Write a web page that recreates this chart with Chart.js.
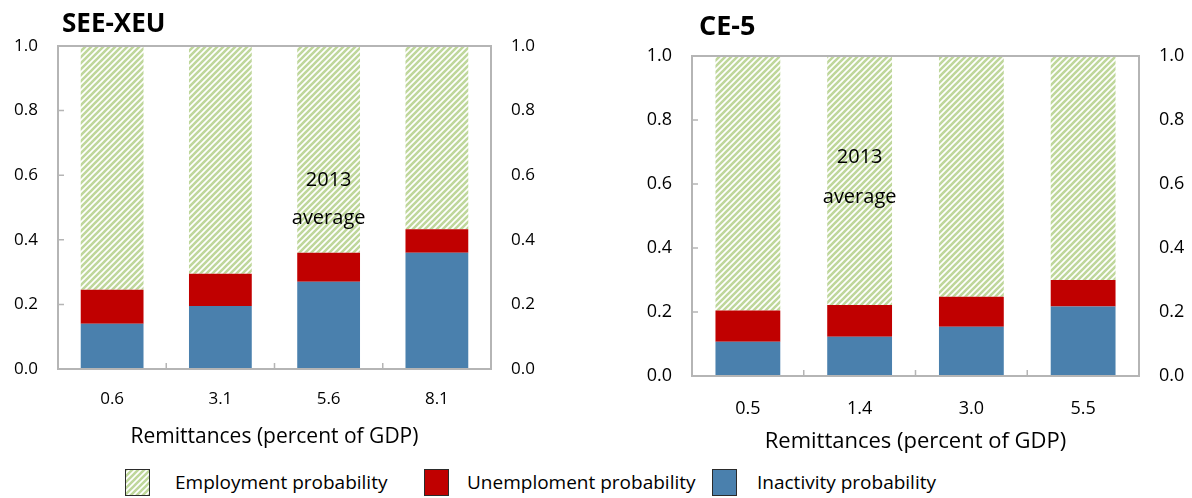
<!DOCTYPE html>
<html>
<head>
<meta charset="utf-8">
<script src="https://cdn.jsdelivr.net/npm/chart.js@4.4.1/dist/chart.umd.min.js"></script>
<style>
  body { margin: 0; background: #fff; width: 1192px; height: 498px; position: relative; overflow: hidden;
         font-family: "Open Sans", sans-serif; color: #000; }
  .box { position: absolute; top: 0; width: 596px; height: 460px; }
  .ttl { position: absolute; font-weight: bold; line-height: 1; }
  .sw { position: absolute; top: 469px; width: 23px; height: 25px; border: 1px solid #2b2b2b; }
  .lt { position: absolute; top: 469px; font-size: 19px; line-height: 26px; }
</style>
</head>
<body>
<div class="box" style="left:0"><canvas id="see"></canvas></div>
<div class="box" style="left:596px"><canvas id="ce"></canvas></div>
<div class="ttl" style="left:62px; top:9px; font-size:26px">SEE-XEU</div>
<div class="ttl" style="left:699px; top:11px; font-size:27px">CE-5</div>

<div class="sw" id="swEmp" style="left:125px"></div>
<div class="lt" style="left:175px">Employment probability</div>
<div class="sw" style="left:424px; background:#c00000"></div>
<div class="lt" style="left:467px">Unemploment probability</div>
<div class="sw" style="left:712px; background:#4a80ad"></div>
<div class="lt" style="left:757px">Inactivity probability</div>

<script>
// SEE-XEU
const seeLabels = ['0.6', '3.1', '5.6', '8.1'];
const seeInactivity = [0.14, 0.195, 0.27, 0.36];
const seeUnemployment = [0.105, 0.10, 0.09, 0.073];
const seeEmployment = [0.755, 0.705, 0.64, 0.567];

// CE-5
const ceLabels = ['0.5', '1.4', '3.0', '5.5'];
const ceInactivity = [0.107, 0.123, 0.154, 0.217];
const ceUnemployment = [0.098, 0.099, 0.094, 0.083];
const ceEmployment = [0.795, 0.778, 0.752, 0.70];

const yMin = 0, yMax = 1, yStep = 0.2;
const xTitle = 'Remittances (percent of GDP)';
const noteLines = ['2013', 'average'];

const RED = '#c00000', BLUE = '#4a80ad', HATCH = '#bfd79b', FRAME = '#b5b5b5';

function makeHatch() {
  const c = document.createElement('canvas');
  c.width = 6; c.height = 6;
  const g = c.getContext('2d');
  g.fillStyle = '#fff';
  g.fillRect(0, 0, 6, 6);
  g.strokeStyle = HATCH;
  g.lineWidth = 2.6;
  g.beginPath();
  g.moveTo(-1, 7); g.lineTo(7, -1);
  g.moveTo(-4, 4); g.lineTo(4, -4);
  g.moveTo(2, 10); g.lineTo(10, 2);
  g.stroke();
  return c;
}
const hatchCanvas = makeHatch();
document.getElementById('swEmp').style.background = 'url(' + hatchCanvas.toDataURL() + ')';

const framePlugin = {
  id: 'frame',
  afterDatasetsDraw(chart) {
    const { ctx, chartArea: a, scales } = chart;
    const note = chart.options.plugins.frame;
    ctx.save();
    // notes
    ctx.fillStyle = '#000';
    ctx.font = note.noteSize + 'px "Open Sans"';
    ctx.textAlign = 'center';
    ctx.textBaseline = 'middle';
    noteLines.forEach((t, i) => {
      ctx.fillText(t, scales.x.getPixelForValue(note.noteIndex), scales.y.getPixelForValue(note.noteAt[i]));
    });
    // box
    ctx.strokeStyle = FRAME;
    ctx.lineWidth = 2;
    ctx.strokeRect(a.left, a.top, a.right - a.left, a.bottom - a.top);
    // inside tick marks
    ctx.lineWidth = 1.5;
    ctx.beginPath();
    scales.y.ticks.forEach(t => {
      const y = scales.y.getPixelForValue(t.value);
      ctx.moveTo(a.left, y); ctx.lineTo(a.left + 6, y);
    });
    const n = chart.data.labels.length;
    for (let i = 0; i < n - 1; i++) {
      const x = (scales.x.getPixelForValue(i) + scales.x.getPixelForValue(i + 1)) / 2;
      ctx.moveTo(x, a.bottom); ctx.lineTo(x, a.bottom - 6);
    }
    ctx.stroke();
    ctx.restore();
  }
};

function makeChart(id, labels, inact, unemp, emp, g) {
  const ctx = document.getElementById(id).getContext('2d');
  const pattern = ctx.createPattern(hatchCanvas, 'repeat');
  const font = { family: '"Open Sans"', size: g.tickSize };
  const yTicks = {
    color: '#000', font, padding: 20, stepSize: yStep,
    callback: v => v.toFixed(1)
  };
  return new Chart(ctx, {
    type: 'bar',
    data: {
      labels,
      datasets: [
        { label: 'Inactivity probability', data: inact, backgroundColor: BLUE },
        { label: 'Unemploment probability', data: unemp, backgroundColor: RED },
        { label: 'Employment probability', data: emp, backgroundColor: pattern }
      ]
    },
    options: {
      responsive: true,
      maintainAspectRatio: false,
      animation: false,
      barPercentage: 0.58,
      categoryPercentage: 1,
      layout: { padding: { top: g.top, bottom: 0, left: 0, right: 0 } },
      plugins: {
        legend: { display: false },
        tooltip: { enabled: false },
        frame: { noteIndex: g.noteIndex, noteAt: g.noteAt, noteSize: g.noteSize }
      },
      scales: {
        x: {
          stacked: true,
          grid: { display: false, drawTicks: false },
          border: { display: false },
          ticks: { color: '#000', font, padding: g.xPad },
          title: { display: true, text: xTitle, color: '#000',
                   font: { family: '"Open Sans"', size: g.titleSize },
                   padding: { top: 0, bottom: g.titleBottom } },
          afterFit: s => { s.height = g.xHeight; }
        },
        y: {
          stacked: true, min: yMin, max: yMax,
          grid: { display: false, drawTicks: false },
          border: { display: false },
          ticks: yTicks,
          afterFit: s => { s.width = g.left; }
        },
        y2: {
          position: 'right', min: yMin, max: yMax,
          grid: { display: false, drawTicks: false },
          border: { display: false },
          ticks: yTicks,
          afterFit: s => { s.width = g.right; }
        }
      }
    },
    plugins: [framePlugin]
  });
}

makeChart('see', seeLabels, seeInactivity, seeUnemployment, seeEmployment, {
  top: 46, xHeight: 91, left: 58, right: 105, tickSize: 17, xPad: 20,
  titleSize: 21, titleBottom: 10, noteIndex: 2, noteAt: [0.585, 0.467], noteSize: 20
});
makeChart('ce', ceLabels, ceInactivity, ceUnemployment, ceEmployment, {
  top: 56, xHeight: 84, left: 96, right: 53, tickSize: 18, xPad: 22,
  titleSize: 22, titleBottom: 5, noteIndex: 1, noteAt: [0.684, 0.56], noteSize: 20
});
</script>
</body>
</html>
